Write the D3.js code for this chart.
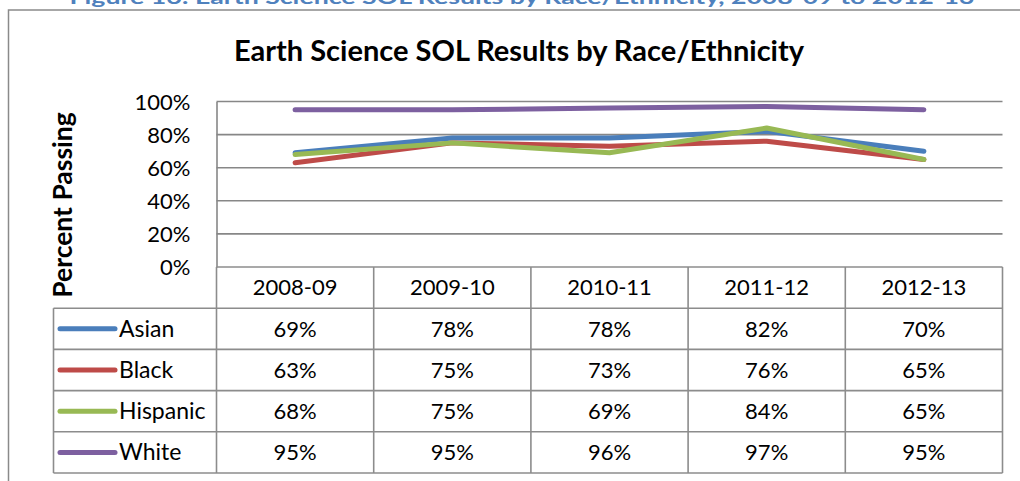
<!DOCTYPE html>
<html><head><meta charset="utf-8">
<script src="https://cdn.jsdelivr.net/npm/d3@7"></script>
<style>
html,body{margin:0;padding:0;background:#fff;overflow:hidden}
svg{display:block}
text{font-family:Lato,"Open Sans",sans-serif}
</style></head>
<body>
<svg id="c" width="1020" height="481"></svg>
<script>
const caption = "Figure 16: Earth Science SOL Results by Race/Ethnicity, 2008-09 to 2012-13";
const title = "Earth Science SOL Results by Race/Ethnicity";
const yTitle = "Percent Passing";
const categories = ["2008-09","2009-10","2010-11","2011-12","2012-13"];
const seriesNames = ["Asian","Black","Hispanic","White"];
const asian    = [69,78,78,82,70];
const black    = [63,75,73,76,65];
const hispanic = [68,75,69,84,65];
const white    = [95,95,96,97,95];
const yTicks = [0,20,40,60,80,100];
const colors = ["#4a7ebb","#be4b48","#98b954","#7d60a0"];

const series = [asian, black, hispanic, white].map((v,i)=>({name:seriesNames[i], values:v, color:colors[i]}));

const svg = d3.select("#c");
const gridColor = "#878787";

// caption (cropped at top, as in the source page)
svg.append("text").attr("x",522).attr("y",4).attr("text-anchor","middle")
  .attr("fill","#4f81bd").attr("font-weight","bold").attr("font-size",19)
  .attr("textLength",905).attr("lengthAdjust","spacingAndGlyphs").text(caption);

// outer chart border
svg.append("rect").attr("x",8.5).attr("y",10).attr("width",1030).attr("height",500)
  .attr("fill","none").attr("stroke","#8a8a8a").attr("stroke-width",1.5);

// title
svg.append("text").attr("x",519).attr("y",61).attr("text-anchor","middle")
  .attr("font-weight","bold").attr("font-size",29).attr("fill","#000").text(title);

const x = d3.scaleBand().domain(categories).range([216.5,1002.5]).padding(0);
const y = d3.scaleLinear().domain([0,100]).range([267,101.5]);

// gridlines
svg.append("g").selectAll("line").data(yTicks.filter(t=>t>0)).join("line")
  .attr("x1",216.5).attr("x2",1002.5).attr("y1",d=>y(d)).attr("y2",d=>y(d))
  .attr("stroke",gridColor).attr("stroke-width",1.6);

// y axis
const yAxis = d3.axisLeft(y).tickValues(yTicks).tickFormat(d=>d+"%").tickSize(0).tickPadding(26);
const ga = svg.append("g").attr("transform","translate(216.5,0)").call(yAxis);
ga.select(".domain").attr("stroke",gridColor).attr("stroke-width",1.6);
ga.selectAll("text").attr("font-size",22).attr("fill","#000").attr("font-family","Lato,sans-serif").attr("dy","0.35em");

// y title
svg.append("text").attr("transform","translate(72,205) rotate(-90)").attr("text-anchor","middle")
  .attr("font-weight","bold").attr("font-size",26.5).attr("fill","#000").text(yTitle);

// lines
const line = d3.line().x((d,i)=>x(categories[i])+x.bandwidth()/2).y(d=>y(d));
svg.append("g").selectAll("path").data(series).join("path")
  .attr("d",d=>line(d.values)).attr("fill","none").attr("stroke",d=>d.color)
  .attr("stroke-width",5).attr("stroke-linecap","round").attr("stroke-linejoin","round");

// data table
const rowTop = 267, rowH = 41.2, tableLeft = 53.5, right = 1002.5;
const rows = d3.scaleBand().domain(["header"].concat(seriesNames)).range([rowTop, rowTop+rowH*5]);
const tb = svg.append("g");
const bc = "#8c8c8c", bw = 1.6;
const hl = [rowTop, rowTop+rowH, rowTop+2*rowH, rowTop+3*rowH, rowTop+4*rowH, rowTop+5*rowH];
tb.selectAll("line.h").data(hl).join("line").attr("class","h")
  .attr("x1",(d,i)=>i===0?216.5:tableLeft).attr("x2",right).attr("y1",d=>d).attr("y2",d=>d)
  .attr("stroke",bc).attr("stroke-width",bw);
const vx = categories.map(c=>x(c)).concat([right]);
tb.selectAll("line.v").data(vx).join("line").attr("class","v")
  .attr("x1",d=>d).attr("x2",d=>d).attr("y1",rowTop).attr("y2",rowTop+5*rowH)
  .attr("stroke",bc).attr("stroke-width",bw);
tb.append("line").attr("x1",tableLeft).attr("x2",tableLeft).attr("y1",rowTop+rowH).attr("y2",rowTop+5*rowH)
  .attr("stroke",bc).attr("stroke-width",bw);

tb.selectAll("text.hd").data(categories).join("text").attr("class","hd")
  .attr("x",d=>x(d)+x.bandwidth()/2).attr("y",rows("header")+rowH/2).attr("dy","0.35em")
  .attr("text-anchor","middle").attr("font-size",22).attr("fill","#000").text(d=>d);

series.forEach(s=>{
  const cy = rows(s.name)+rowH/2;
  tb.append("line").attr("x1",60).attr("x2",115).attr("y1",cy).attr("y2",cy)
    .attr("stroke",s.color).attr("stroke-width",5).attr("stroke-linecap","round");
  tb.append("text").attr("x",119).attr("y",cy).attr("dy","0.35em").attr("font-size",23).attr("fill","#000").text(s.name);
  tb.selectAll(null).data(s.values).join("text")
    .attr("x",(d,i)=>x(categories[i])+x.bandwidth()/2).attr("y",cy).attr("dy","0.35em")
    .attr("text-anchor","middle").attr("font-size",22).attr("fill","#000").text(d=>d+"%");
});
</script>
</body></html>
